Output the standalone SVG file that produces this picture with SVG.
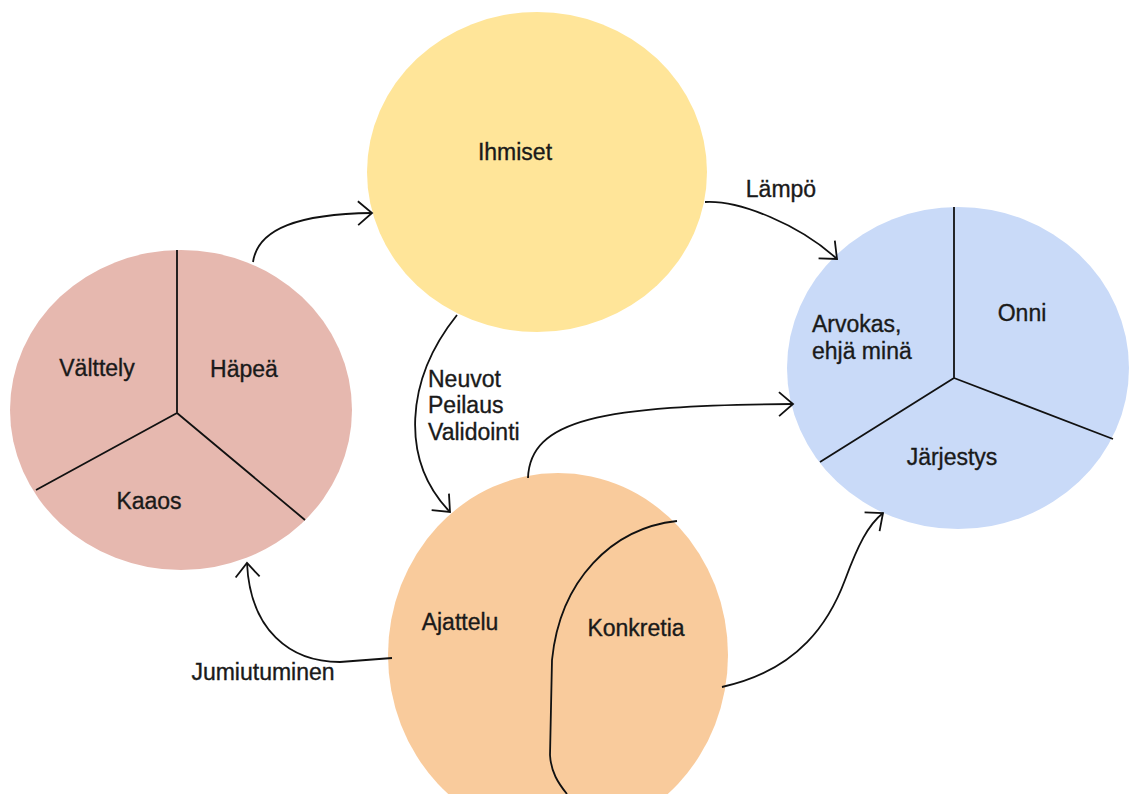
<svg xmlns="http://www.w3.org/2000/svg" width="1138" height="794" viewBox="0 0 1138 794">
  <defs>
    <style>
      text { font-family: "Liberation Sans", Arial, sans-serif; font-size: 23px; fill: #1a1a1a; stroke: #1a1a1a; stroke-width: 0.35; }
      .mid { text-anchor: middle; }
      .div { fill: none; stroke: #111; stroke-width: 1.8; }
      .conn { fill: none; stroke: #111; stroke-width: 1.8; marker-end: url(#arrow); }
    </style>
    <marker id="arrow" markerUnits="userSpaceOnUse" markerWidth="30" markerHeight="30" refX="0" refY="0" viewBox="-20 -15 25 30" orient="auto" overflow="visible">
      <path d="M-14,-12 L0,0 L-14,12" fill="none" stroke="#111" stroke-width="1.8"/>
    </marker>
  </defs>
  <rect width="1138" height="794" fill="#ffffff"/>

  <!-- left: red three-part circle -->
  <g id="node-red">
    <ellipse cx="181" cy="410" rx="171" ry="160" fill="#e6b8af"/>
    <path class="div" d="M177,250 L177,413 L36,490 M177,413 L305,520"/>
    <text class="mid" x="97" y="376">Välttely</text>
    <text class="mid" x="244" y="377">Häpeä</text>
    <text class="mid" x="149" y="509">Kaaos</text>
  </g>

  <!-- top: yellow circle -->
  <g id="node-yellow">
    <ellipse cx="537" cy="172" rx="170" ry="160" fill="#ffe599"/>
    <text class="mid" x="515" y="160">Ihmiset</text>
  </g>

  <!-- right: blue three-part circle -->
  <g id="node-blue">
    <ellipse cx="958" cy="368" rx="171" ry="161" fill="#c9daf8"/>
    <path class="div" d="M954,207 L954,378 L1113,439 M954,378 L820,462"/>
    <text x="812" y="332">Arvokas,</text>
    <text x="812" y="359">ehjä minä</text>
    <text class="mid" x="1022" y="321">Onni</text>
    <text class="mid" x="952" y="465">Järjestys</text>
  </g>

  <!-- bottom: orange two-part circle -->
  <g id="node-orange">
    <ellipse cx="558" cy="655" rx="170" ry="182" fill="#f9cb9c"/>
    <path class="div" d="M677,521 C612,528 560,580 552,660 L550,755 C551,772 558,783 567,794"/>
    <text class="mid" x="460" y="630">Ajattelu</text>
    <text class="mid" x="636" y="636">Konkretia</text>
  </g>

  <!-- connectors -->
  <g id="connectors">
    <path class="conn" d="M253,262 C258,228 300,214 372,213"/>
    <path class="conn" d="M705,202 C740,200 800,225 837,259"/>
    <text x="781" y="197" class="mid">Lämpö</text>
    <path class="conn" d="M457,315 C405,380 400,460 450,512"/>
    <text x="428" y="387">Neuvot</text>
    <text x="428" y="413">Peilaus</text>
    <text x="428" y="440">Validointi</text>
    <path class="conn" d="M528,478 C530,420 600,405 793,404"/>
    <path class="conn" d="M392,658 L340,662 C290,662 250,630 247,563"/>
    <text x="263" y="680" class="mid">Jumiutuminen</text>
    <path class="conn" d="M722,687 C800,670 830,620 845,580 C858,545 868,525 883,513"/>
  </g>
</svg>
